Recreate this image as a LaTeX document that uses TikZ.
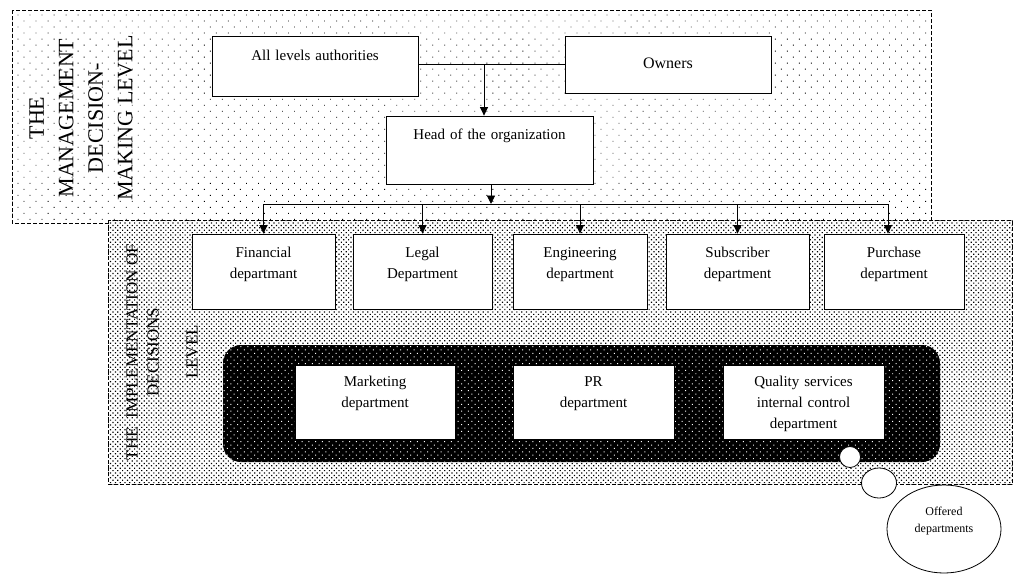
\documentclass[tikz,border=0pt]{standalone}
\usepackage{fontspec}
\setmainfont{Liberation Serif}
\usetikzlibrary{arrows.meta,patterns.meta,shapes.geometric}
\begin{document}
\begin{tikzpicture}[x=1pt,y=-1pt,
  box/.style={draw, fill=white, line width=0.8pt, inner sep=0pt, align=center, font=\fontsize{15}{21}\selectfont},
  conn/.style={line width=0.9pt},
  arr/.style={conn, -{Triangle[length=8.5pt,width=8pt]}},
  zone/.style={draw, line width=0.8pt, dash pattern=on 4pt off 2pt},
  bubble/.style={draw, fill=white, line width=0.8pt, ellipse, inner sep=0pt},
  vlabel/.style={rotate=90, align=center, inner sep=0pt},
]
\useasboundingbox (0,0) rectangle (1014,574);
% management zone
\path[zone, preaction={fill=white}, pattern={Dots[distance=8.5pt,angle=45,radius=0.6pt]}] (12,10) rectangle (931,223);
% implementation zone
\path[zone, preaction={fill=white}, pattern={Dots[distance=3.4pt,angle=45,radius=0.85pt]}] (108,220) rectangle (1012.5,484);
% offered departments band
\path[preaction={fill=black}, pattern={Dots[distance=4.8pt,angle=45,radius=0.7pt]}, pattern color=white, rounded corners=18pt] (223,345) rectangle (940,462);

% rotated level titles
\node[vlabel, font=\fontsize{22}{29.5}\selectfont] (mgmt) at (81,118) {THE\\MANAGEMENT\\DECISION-\\MAKING LEVEL};
\node[vlabel, font=\fontsize{17}{21}\selectfont] (impl) at (162,352) {THE\ \ IMPLEMENTATION OF\\DECISIONS\\[18pt]LEVEL};

% top level boxes
\node[box, text width=206pt, text height=24pt, text depth=36pt] (auth) at (315,66) {All levels authorities};
\node[box, text width=206pt, text height=32pt, text depth=25pt, font=\fontsize{16}{21}\selectfont] (owners) at (668,64.5) {Owners};
\node[box, text width=207pt, text height=23pt, text depth=45pt] (head) at (489.5,150) {Head of the organization\hspace*{20pt}};

% departments
\node[box, text width=143pt, text height=23pt, text depth=52pt] (fin) at (263.5,271.5) {Financial\\departmant};
\node[box, text width=139pt, text height=23pt, text depth=52pt] (legal) at (422.5,271.5) {Legal\\Department};
\node[box, text width=134pt, text height=23pt, text depth=52pt] (eng) at (580,271.5) {Engineering\\department};
\node[box, text width=143pt, text height=23pt, text depth=52pt] (sub) at (737.5,271.5) {Subscriber\\department};
\node[box, text width=140pt, text height=23pt, text depth=52pt] (pur) at (894,271.5) {Purchase\\department};

% offered departments
\node[box, text width=160pt, text height=21pt, text depth=53pt] (mkt) at (375,402) {Marketing\\department};
\node[box, text width=161pt, text height=21pt, text depth=53pt] (pr) at (593.5,402) {PR\\department};
\node[box, text width=161pt, text height=21pt, text depth=53pt] (qual) at (803.5,402) {Quality services\\internal control\\department};

% callout bubbles
\node[bubble, minimum width=21pt, minimum height=21pt] (b1) at (850,457) {};
\node[bubble, minimum width=35pt, minimum height=30pt] (b2) at (879,483) {};
\node[bubble, minimum width=114pt, minimum height=88pt, text width=62pt, text height=4pt, text depth=31pt, align=center, font=\fontsize{12}{16.5}\selectfont] (offer) at (944,529) {Offered\\departments};

% connectors
\coordinate (j) at (484,64.5);
\draw[conn] (auth.east |- j) -- (owners.west |- j);
\draw[arr] (j) -- (j |- head.north);
\coordinate (hb) at (491,204);
\draw[arr] (head.south -| hb) -- (hb);
\draw[conn] (fin.north |- hb) -- ([xshift=-6pt]pur.north |- hb);
\foreach \n in {fin,legal,eng,sub} \draw[arr] (\n.north |- hb) -- (\n.north);
\draw[arr] ([xshift=-6pt]pur.north |- hb) -- ([xshift=-6pt]pur.north);
\end{tikzpicture}
\end{document}
